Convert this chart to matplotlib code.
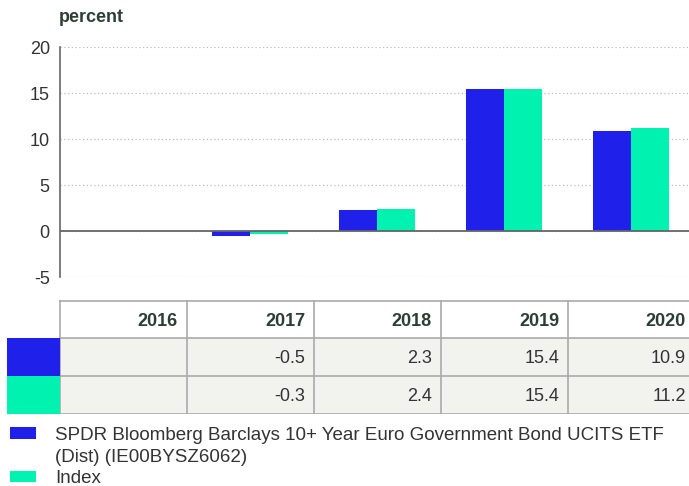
import numpy as np
import matplotlib.pyplot as plt
from matplotlib.patches import Rectangle

years = ['2016', '2017', '2018', '2019', '2020']
fund = [np.nan, -0.5, 2.3, 15.4, 10.9]
index = [np.nan, -0.3, 2.4, 15.4, 11.2]
fund_name = ['SPDR Bloomberg Barclays 10+ Year Euro Government Bond UCITS ETF',
             '(Dist) (IE00BYSZ6062)']
index_name = 'Index'

blue = '#1f20ea'
green = '#00f2b0'
txt = '#333333'
head = '#2d3e36'
W, H = 689, 486

plt.rcParams['font.family'] = ['Liberation Sans', 'DejaVu Sans']
plt.rcParams['axes.unicode_minus'] = False

fig = plt.figure(figsize=(W / 100, H / 100), dpi=100)

def fax(x0, y0, x1, y1):
    # axes from pixel box (top-left origin)
    return fig.add_axes([x0 / W, 1 - y1 / H, (x1 - x0) / W, (y1 - y0) / H])

# bar chart
ax = fax(59.5, 47, 694.5, 277)
x = np.arange(len(years))
bw = 0.3
ax.bar(x - bw / 2, fund, bw, color=blue, zorder=3)
ax.bar(x + bw / 2, index, bw, color=green, zorder=3)
ax.set_xlim(-0.5, len(years) - 0.5)
ax.set_ylim(-5, 20)
ax.set_yticks([-5, 0, 5, 10, 15, 20])
ax.yaxis.grid(True, linestyle=(0, (1, 2)), color='#bbbbbb', linewidth=0.9)
ax.axhline(0, color='#666666', linewidth=1.3, zorder=4)
ax.set_xticks([])
for s in ['top', 'right', 'bottom']:
    ax.spines[s].set_visible(False)
ax.spines['left'].set_color('#666666')
ax.spines['left'].set_linewidth(1.2)
ax.tick_params(axis='y', length=0, labelsize=13, labelcolor=txt, pad=7)
fig.text(59 / W, 1 - 18 / H, 'percent', fontsize=13, fontweight='bold',
         color=head, va='center', ha='left')

# table
tb = fax(0, 300, 689, 414)
tb.set_xlim(0, W)
tb.set_ylim(414, 300)
tb.axis('off')
col_edges = [59.5, 186.5, 313.5, 440.5, 567.5, 694.5]
rows = [(300, 338), (338, 376), (376, 414)]
line_c = '#aaaaaa'
for (r0, r1), face in zip(rows, ['white', '#f2f2ee', '#f2f2ee']):
    tb.add_patch(Rectangle((60, r0), W - 60, r1 - r0, facecolor=face, edgecolor='none'))
tb.add_patch(Rectangle((7, 338), 53, 38, facecolor=blue, edgecolor='none', zorder=3))
tb.add_patch(Rectangle((7, 376), 53, 38, facecolor=green, edgecolor='none', zorder=3))
for cx in col_edges[:-1]:
    tb.plot([cx, cx], [300, 414], color=line_c, linewidth=1.2)
for ry in [301, 338, 376, 414]:
    tb.plot([60, W], [ry, ry], color=line_c, linewidth=1.2)
for i, yr in enumerate(years):
    xr = col_edges[i + 1] - 8.5
    tb.text(xr, 321.5, yr, ha='right', va='center', fontsize=13, fontweight='bold', color=head)
    for vals, yc in [(fund, 358.5), (index, 396.5)]:
        v = vals[i]
        if not np.isnan(v):
            tb.text(xr, yc, f'{v:.1f}', ha='right', va='center', fontsize=13, color=txt)

# legend
lg = fax(0, 414, 689, 486)
lg.set_xlim(0, W)
lg.set_ylim(486, 414)
lg.axis('off')
lg.add_patch(Rectangle((10, 427), 26, 12, facecolor=blue, edgecolor='none'))
lg.add_patch(Rectangle((10, 471), 26, 11, facecolor=green, edgecolor='none'))
lg.text(55, 440, fund_name[0], ha='left', va='baseline', fontsize=13.5, color=txt)
lg.text(55, 461.5, fund_name[1], ha='left', va='baseline', fontsize=13.5, color=txt)
lg.text(55, 483, index_name, ha='left', va='baseline', fontsize=13.5, color=txt,
        clip_on=False)

fig.savefig('out.png', dpi=100)
